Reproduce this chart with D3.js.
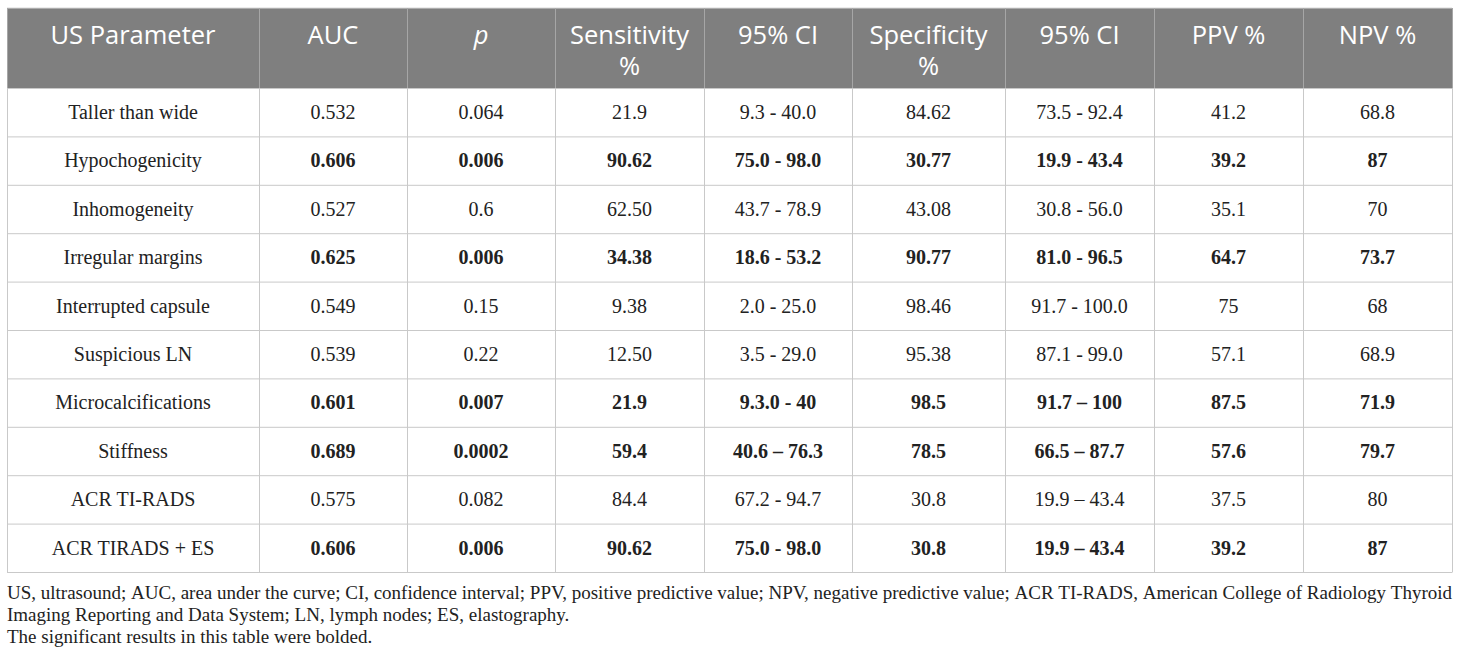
<!DOCTYPE html>
<html>
<head>
<meta charset="utf-8">
<script src="https://cdn.jsdelivr.net/npm/d3@7"></script>
<style>
  html, body { margin: 0; padding: 0; background: #fff; }
  svg { display: block; }
</style>
</head>
<body>
<div id="table"></div>
<script>
// header labels (multi-line headers split on "\n")
const headers = ["US Parameter", "AUC", "p", "Sensitivity\n%", "95% CI", "Specificity\n%", "95% CI", "PPV %", "NPV %"];

const params = ["Taller than wide", "Hypochogenicity", "Inhomogeneity", "Irregular margins", "Interrupted capsule",
  "Suspicious LN", "Microcalcifications", "Stiffness", "ACR TI-RADS", "ACR TIRADS + ES"];
const auc = ["0.532", "0.606", "0.527", "0.625", "0.549", "0.539", "0.601", "0.689", "0.575", "0.606"];
const pValues = ["0.064", "0.006", "0.6", "0.006", "0.15", "0.22", "0.007", "0.0002", "0.082", "0.006"];
const sensitivity = ["21.9", "90.62", "62.50", "34.38", "9.38", "12.50", "21.9", "59.4", "84.4", "90.62"];
const sensCI = ["9.3 - 40.0", "75.0 - 98.0", "43.7 - 78.9", "18.6 - 53.2", "2.0 - 25.0", "3.5 - 29.0",
  "9.3.0 - 40", "40.6 \u2013 76.3", "67.2 - 94.7", "75.0 - 98.0"];
const specificity = ["84.62", "30.77", "43.08", "90.77", "98.46", "95.38", "98.5", "78.5", "30.8", "30.8"];
const specCI = ["73.5 - 92.4", "19.9 - 43.4", "30.8 - 56.0", "81.0 - 96.5", "91.7 - 100.0", "87.1 - 99.0",
  "91.7 \u2013 100", "66.5 \u2013 87.7", "19.9 \u2013 43.4", "19.9 \u2013 43.4"];
const ppv = ["41.2", "39.2", "35.1", "64.7", "75", "57.1", "87.5", "57.6", "37.5", "39.2"];
const npv = ["68.8", "87", "70", "73.7", "68", "68.9", "71.9", "79.7", "80", "87"];
// rows reported as significant (bold)
const significant = [false, true, false, true, false, false, true, true, false, true];

const footnotes = [
  "US, ultrasound; AUC, area under the curve; CI, confidence interval; PPV, positive predictive value; NPV, negative predictive value; ACR TI-RADS, American College of Radiology Thyroid",
  "Imaging Reporting and Data System; LN, lymph nodes; ES, elastography.",
  "The significant results in this table were bolded."
];

const W = 1460, H = 658;
const tLeft = 7, tRight = 1452, tTop = 8, headBottom = 88, tBottom = 572;
const colWeights = [252, 148, 148, 149, 148, 153, 149, 149, 149];
const colEdges = [0];
colWeights.forEach(w => colEdges.push(colEdges[colEdges.length - 1] + w));

const x = d3.scaleLinear().domain([0, colEdges[colEdges.length - 1]]).range([tLeft, tRight]);
const y = d3.scaleBand().domain(params).range([headBottom, tBottom]).padding(0);

const columns = [params, auc, pValues, sensitivity, sensCI, specificity, specCI, ppv, npv];

const svg = d3.select("#table").append("svg")
  .attr("width", W)
  .attr("height", H);

// header background
svg.append("rect")
  .attr("x", tLeft).attr("y", tTop)
  .attr("width", tRight - tLeft).attr("height", headBottom - tTop)
  .attr("fill", "#7f7f7f");

// header labels
const head = svg.append("g");
headers.forEach((h, i) => {
  const cx = (x(colEdges[i]) + x(colEdges[i + 1])) / 2;
  const t = head.append("text")
    .attr("x", cx)
    .attr("y", 44)
    .attr("text-anchor", "middle")
    .attr("fill", "#fff")
    .style("font-family", "'Open Sans', 'Noto Sans', sans-serif")
    .style("font-size", "25.5px")
    .style("font-style", h === "p" ? "italic" : "normal");
  h.split("\n").forEach((line, k) => {
    t.append("tspan").attr("x", cx).attr("dy", k === 0 ? 0 : 31).text(line);
  });
});

// body cells
const body = svg.append("g")
  .style("font-family", "'Liberation Serif', 'Times New Roman', serif")
  .style("font-size", "20px")
  .attr("fill", "#222");

params.forEach((param, r) => {
  const cy = y(param) + y.bandwidth() / 2;
  columns.forEach((col, c) => {
    const cx = (x(colEdges[c]) + x(colEdges[c + 1])) / 2;
    body.append("text")
      .attr("x", cx)
      .attr("y", cy + 6.8)
      .attr("text-anchor", "middle")
      .style("font-weight", significant[r] && c > 0 ? "bold" : "normal")
      .text(col[r]);
  });
});

// grid lines
const grid = svg.append("g").attr("stroke", "#c9c9c9").attr("stroke-width", 1).attr("fill", "none");
grid.append("line").attr("x1", tLeft).attr("x2", tRight).attr("y1", tTop).attr("y2", tTop).attr("stroke", "#d9d9d9");
params.forEach(param => {
  grid.append("line")
    .attr("x1", tLeft).attr("x2", tRight)
    .attr("y1", y(param) + 0.5).attr("y2", y(param) + 0.5);
});
grid.append("line").attr("x1", tLeft).attr("x2", tRight).attr("y1", tBottom + 0.5).attr("y2", tBottom + 0.5);

colEdges.forEach(e => {
  const xx = Math.round(x(e)) + 0.5;
  grid.append("line")
    .attr("x1", xx).attr("x2", xx)
    .attr("y1", tTop).attr("y2", headBottom)
    .attr("stroke", "#a6a6a6");
  grid.append("line")
    .attr("x1", xx).attr("x2", xx)
    .attr("y1", headBottom).attr("y2", tBottom + 0.5);
});

// footnotes, first line justified across the table width
const foot = svg.append("g")
  .style("font-family", "'Liberation Serif', 'Times New Roman', serif")
  .style("font-size", "19px")
  .attr("fill", "#222");

footnotes.forEach((line, i) => {
  const yy = 599 + i * 22;
  if (i === 0) {
    const words = line.split(" ");
    const nodes = words.map(w => foot.append("text").attr("y", yy).text(w));
    const widths = nodes.map(n => n.node().getComputedTextLength());
    const gap = (tRight - tLeft - d3.sum(widths)) / (words.length - 1);
    let cur = tLeft;
    nodes.forEach((n, k) => {
      n.attr("x", cur);
      cur += widths[k] + gap;
    });
  } else {
    foot.append("text").attr("x", tLeft).attr("y", yy).text(line);
  }
});
</script>
</body>
</html>
